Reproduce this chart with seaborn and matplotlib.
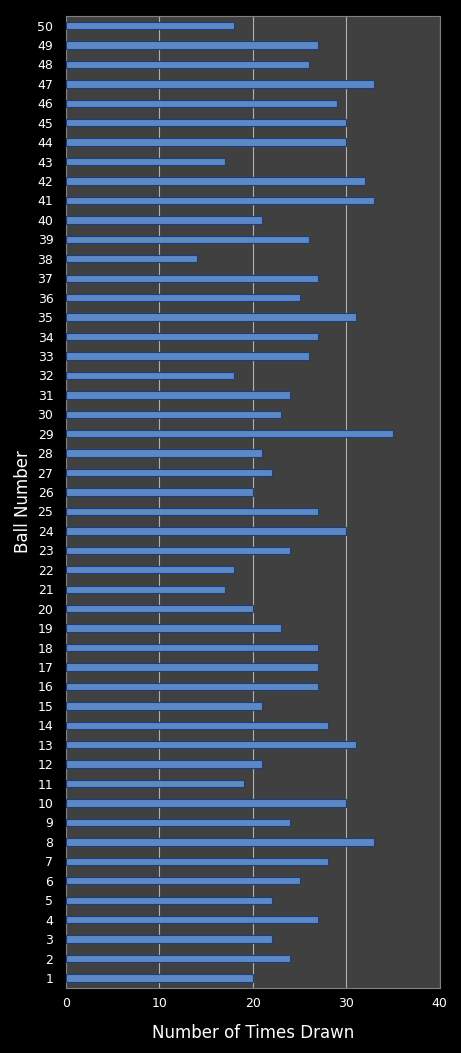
import matplotlib
matplotlib.use("Agg")
import matplotlib.pyplot as plt
import seaborn as sns
import pandas as pd

balls = list(range(1, 51))
times_drawn = [20, 24, 22, 27, 22, 25, 28, 33, 24, 30,
               19, 21, 31, 28, 21, 27, 27, 27, 23, 20,
               17, 18, 24, 30, 27, 20, 22, 21, 35, 23,
               24, 18, 26, 27, 31, 25, 27, 14, 26, 21,
               33, 32, 17, 30, 30, 29, 33, 26, 27, 18]

df = pd.DataFrame({"ball": [str(b) for b in balls], "count": times_drawn})
order = [str(b) for b in reversed(balls)]

sns.set_style("dark")
fig = plt.figure(figsize=(4.61, 10.53), dpi=100, facecolor="black")
ax = fig.add_axes([0.143, 0.062, 0.811, 0.923])
ax.set_facecolor("#404040")

sns.barplot(data=df, x="count", y="ball", order=order, orient="h",
            color="#4a86d8", edgecolor="#1c3f7a", linewidth=0.8,
            width=0.38, ax=ax, zorder=3)

ax.set_xlim(0, 40)
ax.set_xticks([0, 10, 20, 30, 40])
ax.grid(axis="x", color="#b0b0b0", linewidth=0.8, zorder=0)
ax.grid(axis="y", visible=False)
ax.set_axisbelow(True)
for s in ax.spines.values():
    s.set_color("#808080")
    s.set_linewidth(0.8)
ax.tick_params(colors="white", labelsize=9, length=3)
ax.tick_params(axis="y", pad=6)
ax.set_xlabel("Number of Times Drawn", color="white", fontsize=12, labelpad=10)
ax.set_ylabel("Ball Number", color="white", fontsize=12)

fig.savefig("out.png", dpi=100, facecolor="black")
